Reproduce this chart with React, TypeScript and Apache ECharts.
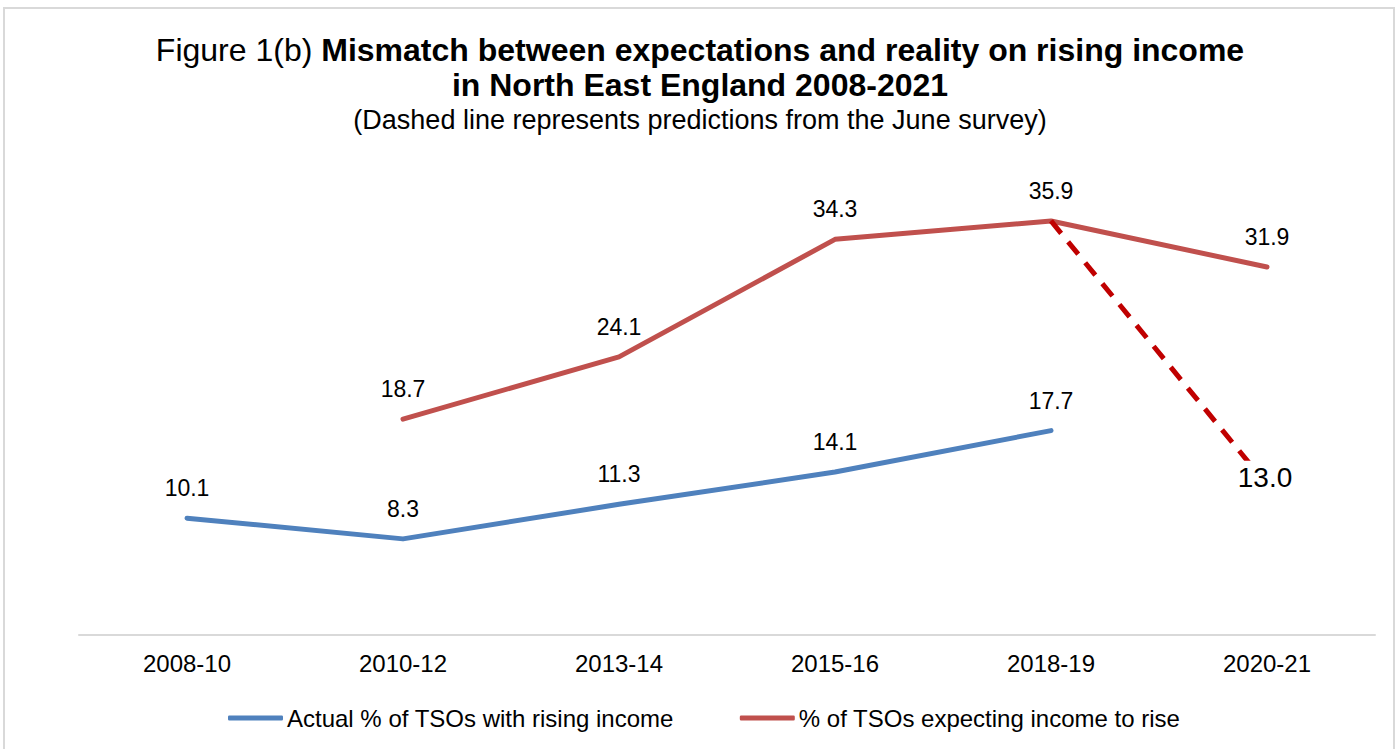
import React, { useEffect, useRef } from "react";
import * as echarts from "echarts";

const categories = ["2008-10", "2010-12", "2013-14", "2015-16", "2018-19", "2020-21"];
const actualRising = [10.1, 8.3, 11.3, 14.1, 17.7, null];
const expectingRise = [null, 18.7, 24.1, 34.3, 35.9, 31.9];
const junePrediction = [null, null, null, null, 35.9, 13.0];
const legendNames = ["Actual % of TSOs with rising income", "% of TSOs expecting income to rise"];

const FONT = "'Liberation Sans', Arial, sans-serif";

const fmt = (p: any) => {
  const v = Array.isArray(p.value) ? p.value[1] : p.value;
  return v == null ? "" : Number(v).toFixed(1);
};

export default function App() {
  const ref = useRef<HTMLDivElement>(null);
  useEffect(() => {
    if (!ref.current) return;
    const chart = echarts.init(ref.current, null, { renderer: "svg" });
    const labelStyle = {
      show: true,
      position: "top" as const,
      distance: 18,
      fontSize: 23,
      color: "#000",
      fontFamily: FONT,
      formatter: fmt,
    };
    chart.setOption({
      animation: false,
      backgroundColor: "#fff",
      textStyle: { fontFamily: FONT },
      graphic: [
        {
          type: "rect",
          shape: { x: 4, y: 8, width: 1390, height: 760 },
          style: { fill: "none", stroke: "#D9D9D9", lineWidth: 2 },
          silent: true,
        },
      ],
      title: [
        {
          left: "center",
          top: 34,
          padding: 0,
          text: "{n|Figure 1(b) }{b|Mismatch between expectations and reality on rising income}",
          textStyle: {
            rich: {
              n: { fontSize: 32, fontWeight: "normal", color: "#000", fontFamily: FONT },
              b: { fontSize: 32, fontWeight: "bold", color: "#000", fontFamily: FONT },
            },
          },
        },
        {
          left: "center",
          top: 69,
          padding: 0,
          text: "in North East England 2008-2021",
          textStyle: { fontSize: 32, fontWeight: "bold", color: "#000", fontFamily: FONT },
        },
        {
          left: "center",
          top: 106,
          padding: 0,
          text: "(Dashed line represents predictions from the June survey)",
          textStyle: { fontSize: 27, fontWeight: "normal", color: "#000", fontFamily: FONT },
        },
      ],
      legend: {
        left: 228,
        top: 706,
        padding: 0,
        data: legendNames,
        icon: "roundRect",
        itemWidth: 55,
        itemHeight: 5,
        itemGap: 66,
        textStyle: { fontSize: 24, color: "#000", fontFamily: FONT, padding: [0, 0, 0, -1] },
      },
      grid: { left: 79, right: 25, top: 173.7, bottom: 114.5, containLabel: false },
      xAxis: {
        type: "category",
        data: categories,
        boundaryGap: true,
        axisLine: { show: true, lineStyle: { color: "#D9D9D9", width: 2 } },
        axisTick: { show: false },
        axisLabel: { fontSize: 24, color: "#000", margin: 17, fontFamily: FONT },
      },
      yAxis: {
        type: "value",
        min: 0,
        max: 40,
        show: false,
        splitLine: { show: false },
      },
      series: [
        {
          name: legendNames[0],
          type: "line",
          data: actualRising,
          symbol: "circle",
          symbolSize: 1,
          showSymbol: true,
          color: "#4F81BD",
          lineStyle: { color: "#4F81BD", width: 5, cap: "round", join: "round" },
          label: labelStyle,
          z: 3,
        },
        {
          name: legendNames[1],
          type: "line",
          data: expectingRise,
          symbol: "circle",
          symbolSize: 1,
          showSymbol: true,
          color: "#C0504D",
          lineStyle: { color: "#C0504D", width: 5, cap: "round", join: "round" },
          label: labelStyle,
          z: 3,
        },
        {
          name: "June prediction",
          type: "line",
          data: junePrediction.map((v, i) =>
            i === junePrediction.length - 1
              ? {
                  value: v,
                  label: {
                    show: true,
                    position: "inside",
                    offset: [-2, -7],
                    fontSize: 28,
                    color: "#000",
                    fontFamily: FONT,
                    backgroundColor: "#fff",
                    padding: [3, 4],
                    formatter: fmt,
                  },
                }
              : v
          ),
          symbol: "circle",
          symbolSize: 1,
          showSymbol: true,
          color: "#C00000",
          lineStyle: { color: "#C00000", width: 5, type: [16, 11] },
          label: { show: false },
          z: 4,
        },
      ],
    });
    return () => chart.dispose();
  }, []);
  return (
    <div
      ref={ref}
      style={{ position: "fixed", left: 0, top: 0, width: 1400, height: 749 }}
    />
  );
}
